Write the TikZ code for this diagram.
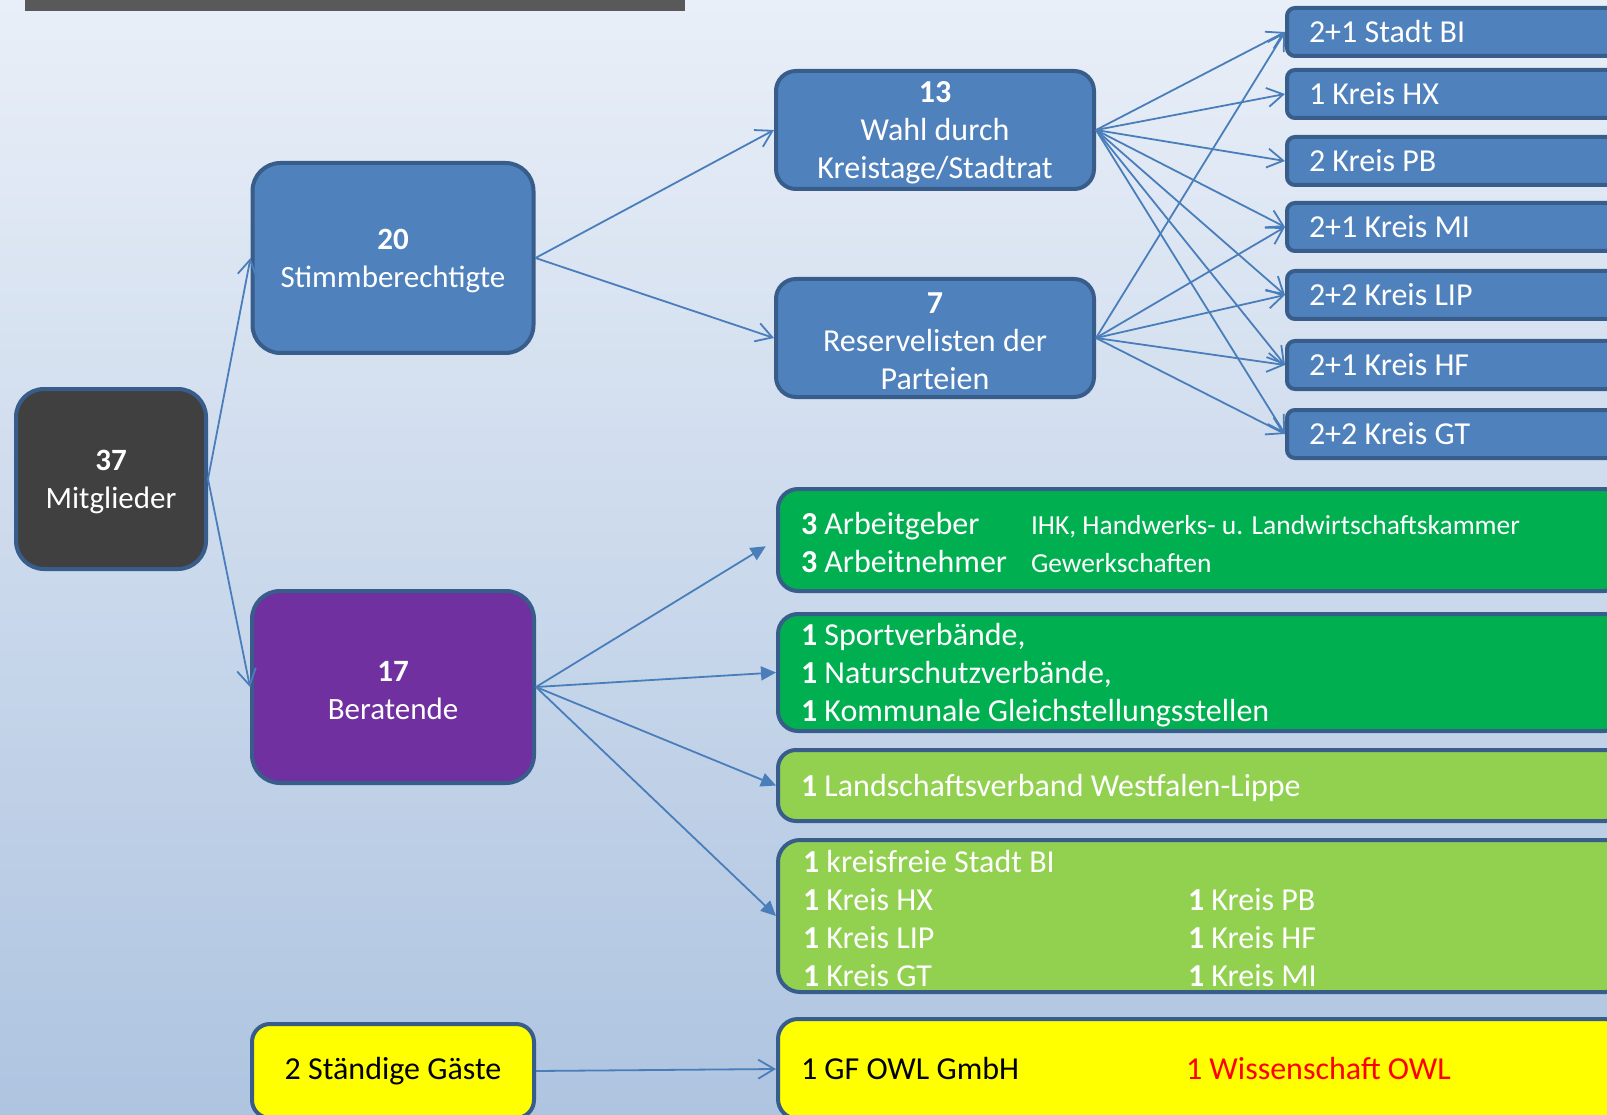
\documentclass[tikz,border=0pt]{standalone}
\usepackage{fontspec}
\setmainfont{Carlito}
\usetikzlibrary{arrows.meta}
\definecolor{randblau}{HTML}{385D8A}
\definecolor{linienblau}{HTML}{4A7EBB}
\definecolor{fuellblau}{HTML}{4F81BD}
\definecolor{dunkel}{HTML}{404040}
\definecolor{lila}{HTML}{7030A0}
\definecolor{gruen}{HTML}{00B050}
\definecolor{hellgruen}{HTML}{92D050}
\definecolor{gelb}{HTML}{FFFF00}
\definecolor{balken}{HTML}{595959}
\newcommand{\kleinschrift}{\fontsize{27.5}{38}\selectfont}
\newcommand{\oben}{\rule{0pt}{27pt}}
\begin{document}
\begin{tikzpicture}[x=1pt, y=-1pt,
    >={Straight Barb[length=16pt, width=19pt]},
    box/.style={draw=randblau, line width=4pt, rounded corners=28pt, text=white,
      align=center, inner sep=0pt, font=\fontsize{32}{38}\selectfont},
    gross/.style={box, font=\fontsize{31}{38}\selectfont},
    zeile/.style={box, rounded corners=#1, anchor=west, align=flush left, inner ysep=0pt},
    pfeil/.style={->, draw=linienblau, line width=1.8pt},
    dreieck/.style={-{Triangle[length=15pt, width=14pt]}, draw=linienblau, fill=linienblau, line width=1.8pt}]
    \useasboundingbox (0, 0) rectangle (1607, 1115);
    \clip (0, 0) rectangle (1607, 1115);
    \shade[top color={rgb,255:red,233;green,239;blue,248}, bottom color={rgb,255:red,174;green,196;blue,224}]
      (0, 0) rectangle (1607, 1115);
    \fill[balken] (25, 0) rectangle (685, 11);
    % linke Spalte
    \node[gross, fill=dunkel, minimum width=190pt, minimum height=180pt] (mitglieder) at (111, 479)
      {\oben\textbf{37}\\Mitglieder};
    \node[gross, fill=fuellblau, minimum width=281pt, minimum height=190pt] (stimm) at (393, 258)
      {\oben\textbf{20}\\Stimmberechtigte};
    \node[gross, fill=lila, minimum width=282pt, minimum height=192pt] (beratende) at (393, 687)
      {\oben\textbf{17}\\Beratende};
    \node[box, fill=gelb, text=black, rounded corners=18pt, minimum width=282pt, minimum height=94pt] (gaeste) at (393, 1071)
      {2 Ständige Gäste};
    % Wahl
    \node[box, fill=fuellblau, rounded corners=20pt, minimum width=318pt, minimum height=118pt] (wahl) at (935, 130)
      {\oben\textbf{13}\\Wahl durch\\Kreistage/Stadtrat};
    \node[box, fill=fuellblau, rounded corners=20pt, minimum width=318pt, minimum height=118pt] (reserve) at (935, 338)
      {\oben\textbf{7}\\Reservelisten der\\Parteien};
    \foreach \name/\y/\txt in {stadtbi/32/2+1 Stadt BI, hx/94/1 Kreis HX, pb/161/2 Kreis PB,
        mi/227/2+1 Kreis MI, lip/295/2+2 Kreis LIP, hf/365/2+1 Kreis HF, gt/434/2+2 Kreis GT}
      \node[zeile=8pt, fill=fuellblau, inner xsep=22pt, text width=380pt,
        minimum height=48pt] (\name) at (1285, \y) {\txt};
    % Beratende
    \node[zeile=20pt, fill=gruen, inner xsep=23pt, text width=800pt, minimum height=102pt] (sozial) at (776, 540)
      {\oben\makebox[230pt][l]{\textbf{3} Arbeitgeber}{\kleinschrift IHK, Handwerks- u. Landwirtschaftskammer}\\
       \makebox[230pt][l]{\textbf{3} Arbeitnehmer}{\kleinschrift Gewerkschaften}};
    \node[zeile=20pt, fill=gruen, inner xsep=23pt, text width=800pt, minimum height=117pt] (verbaende) at (776, 672.5)
      {\oben\textbf{1} Sportverbände,\\\textbf{1} Naturschutzverbände,\\\textbf{1} Kommunale Gleichstellungsstellen};
    \node[zeile=18pt, fill=hellgruen, inner xsep=23pt, text width=800pt, minimum height=71pt] (lwl) at (776, 785.5)
      {\oben\textbf{1} Landschaftsverband Westfalen-Lippe};
    \node[zeile=22pt, fill=hellgruen, inner xsep=25pt, text width=800pt, minimum height=152pt] (kreise) at (776, 916)
      {\oben\textbf{1} kreisfreie Stadt BI\\
       \makebox[385pt][l]{\textbf{1} Kreis HX}\textbf{1} Kreis PB\\
       \makebox[385pt][l]{\textbf{1} Kreis LIP}\textbf{1} Kreis HF\\
       \makebox[385pt][l]{\textbf{1} Kreis GT}\textbf{1} Kreis MI};
    \node[zeile=20pt, fill=gelb, text=black, inner xsep=23pt, text width=800pt, minimum height=100pt] (gaesteliste) at (776, 1069)
      {\makebox[385pt][l]{1 GF OWL GmbH}\textcolor{red}{1 Wissenschaft OWL}};
    % Pfeile
    \draw[pfeil] (mitglieder.east) -- (stimm.west);
    \draw[pfeil] (mitglieder.east) -- (beratende.west);
    \draw[pfeil] (stimm.east) -- (wahl.west);
    \draw[pfeil] (stimm.east) -- (reserve.west);
    \foreach \ziel in {stadtbi, hx, pb, mi, lip, hf, gt}
      \draw[pfeil] (wahl.east) -- (\ziel.west);
    \foreach \ziel in {stadtbi, mi, lip, hf, gt}
      \draw[pfeil] (reserve.east) -- (\ziel.west);
    \draw[dreieck, shorten >=12pt] (beratende.east) -- (sozial.west);
    \foreach \ziel in {verbaende, lwl, kreise}
      \draw[dreieck] (beratende.east) -- (\ziel.west);
    \draw[pfeil] (gaeste.east) -- (gaesteliste.west);
\end{tikzpicture}
\end{document}
